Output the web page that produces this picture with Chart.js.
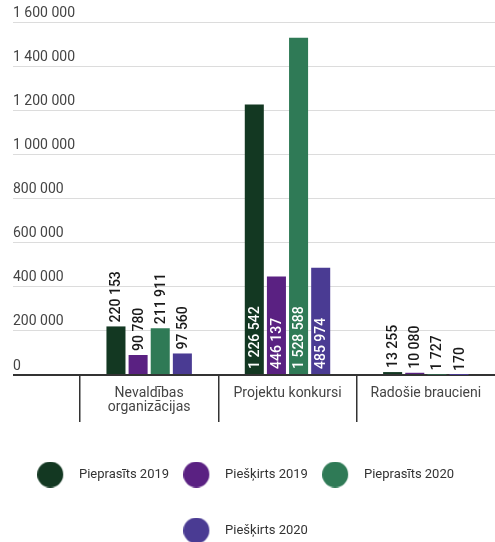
<!DOCTYPE html>
<html>
<head>
<meta charset="utf-8">
<script src="https://cdn.jsdelivr.net/npm/chart.js@4"></script>
<style>
  html, body { margin: 0; padding: 0; background: #fff; }
  #wrap { width: 495px; height: 542px; }
</style>
</head>
<body>
<div id="wrap"><canvas id="myChart"></canvas></div>
<script>
// kategorijas un vērtības
var categories = [['Nevaldības', 'organizācijas'], 'Projektu konkursi', 'Radošie braucieni'];
var seriesNames = ['Pieprasīts 2019', 'Piešķirts 2019', 'Pieprasīts 2020', 'Piešķirts 2020'];
var pieprasits2019 = [220153, 1226542, 13255];
var pieskirts2019 = [90780, 446137, 10080];
var pieprasits2020 = [211911, 1528588, 1727];
var pieskirts2020 = [97560, 485974, 170];
var seriesColors = ['#133822', '#5a2182', '#2f7a56', '#4a3b93'];
var yTicks = [0, 200000, 400000, 600000, 800000, 1000000, 1200000, 1400000, 1600000];

var fmt = v => String(v).replace(/\B(?=(\d{3})+(?!\d))/g, ' ');

// aplis leģendai (nobīdīts pa kreisi no teksta)
function dot(color) {
  var c = document.createElement('canvas');
  c.width = 64; c.height = 26;
  var g = c.getContext('2d');
  g.fillStyle = color;
  g.beginPath();
  g.arc(13, 13, 13, 0, Math.PI * 2);
  g.fill();
  return c;
}

var barLabels = {
  id: 'barLabels',
  afterDatasetsDraw(chart) {
    var ctx = chart.ctx;
    ctx.save();
    ctx.font = '500 14px Roboto';
    chart.data.datasets.forEach((ds, di) => {
      var meta = chart.getDatasetMeta(di);
      meta.data.forEach((bar, i) => {
        var text = fmt(ds.data[i]);
        var w = ctx.measureText(text).width;
        var h = bar.base - bar.y;
        var inside = h > w + 10;
        ctx.save();
        ctx.translate(bar.x + 1, inside ? bar.base - 5 : bar.y - 4);
        ctx.rotate(-Math.PI / 2);
        ctx.textAlign = 'left';
        ctx.textBaseline = 'middle';
        ctx.fillStyle = inside ? '#ffffff' : '#1a1a1a';
        ctx.fillText(text, 0, 0);
        ctx.restore();
      });
    });
    ctx.restore();
  }
};

// centrē leģendu, jo apļi iziet ārpus vienuma
var legendNudge = {
  id: 'legendNudge',
  afterLayout(chart) {
    chart.legend.left += 6;
    chart.legend.right += 6;
    chart.legend.top += 5;
  }
};

var allData = [pieprasits2019, pieskirts2019, pieprasits2020, pieskirts2020];

var config = {
  type: 'bar',
  data: {
    labels: categories,
    datasets: seriesNames.map((name, k) => ({
      label: name,
      data: allData[k],
      backgroundColor: seriesColors[k],
      pointStyle: dot(seriesColors[k]),
      categoryPercentage: 0.64,
      barPercentage: 0.86
    }))
  },
  options: {
    responsive: true,
    maintainAspectRatio: false,
    animation: false,
    layout: { padding: { left: 13, right: 0, top: 22, bottom: 0 } },
    plugins: {
      tooltip: { enabled: false },
      legend: {
        position: 'bottom',
        labels: {
          usePointStyle: true,
          pointStyleWidth: 6.5,
          padding: 43,
          color: '#333',
          font: { family: 'Roboto', size: 13 }
        }
      }
    },
    scales: {
      x: {
        offset: true,
        afterFit: s => { s.height = 45; },
        grid: {
          offset: true,
          drawOnChartArea: false,
          drawTicks: true,
          tickLength: 47,
          lineWidth: 1.5,
          color: ctx => ctx.type === 'tick' ? '#333' : 'rgba(0,0,0,0)'
        },
        border: { display: true, color: '#333', width: 2 },
        ticks: {
          padding: -36,
          maxRotation: 0,
          autoSkip: false,
          color: '#444',
          font: { family: 'Roboto', size: 14, lineHeight: 1 }
        }
      },
      y: {
        min: 0,
        max: 1600000,
        afterBuildTicks: s => { s.ticks = yTicks.map(v => ({ value: v })); },
        afterFit: s => { s.width = 67; },
        border: { display: false },
        grid: {
          drawTicks: true,
          tickLength: 67,
          color: ctx => ctx.tick && ctx.tick.value === 0 ? '#333' : '#dcdcdc',
          lineWidth: ctx => ctx.tick && ctx.tick.value === 0 ? 2 : 1
        },
        ticks: {
          crossAlign: 'far',
          labelOffset: -9,
          padding: 0,
          color: '#444',
          font: { family: 'Roboto', size: 14 },
          callback: v => fmt(v)
        }
      }
    }
  },
  plugins: [barLabels, legendNudge]
};

var myChart = new Chart(document.getElementById('myChart'), config);
</script>
</body>
</html>
